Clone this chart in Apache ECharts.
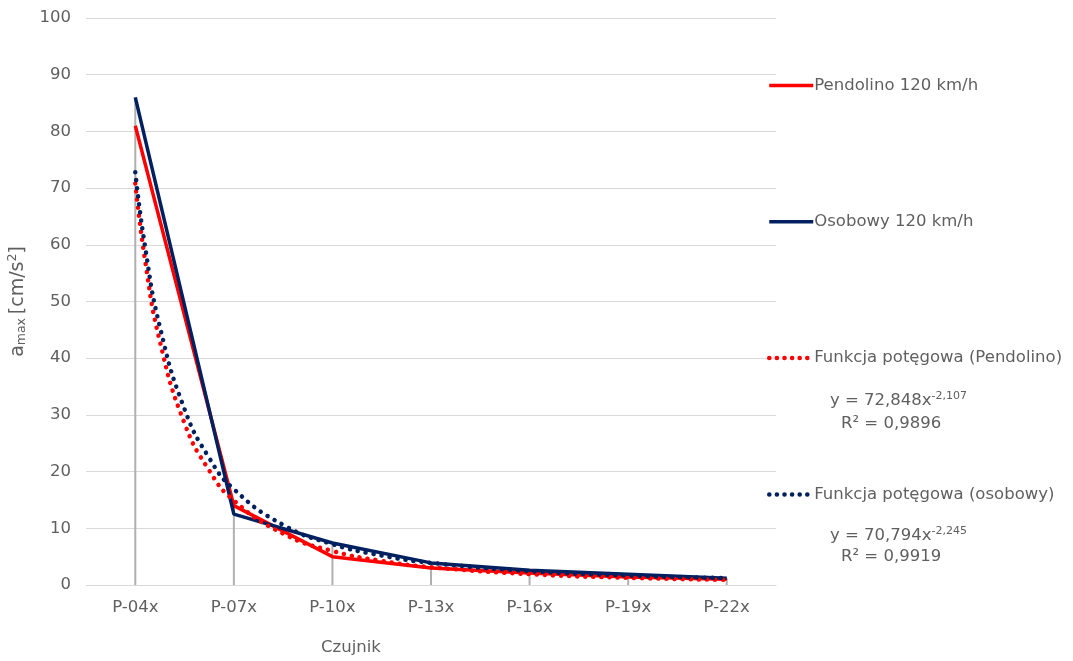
<!DOCTYPE html>
<html><head><meta charset="utf-8">
<script src="https://cdn.jsdelivr.net/npm/echarts@6/dist/echarts.min.js"></script>
<style>html,body{margin:0;padding:0;background:#fff}#c{width:1073px;height:661px}</style>
</head><body><div id="c"></div>
<script>
const categories = ['P-04x','P-07x','P-10x','P-13x','P-16x','P-19x','P-22x'];
const pendolino = [81, 14, 5, 3, 2.1, 1.4, 1.0];
const osobowy = [86, 12.5, 7.4, 3.9, 2.6, 1.9, 1.2];
// trend curves at positions along the category axis (1 = P-04x ... 7 = P-22x)
const trendX = [1, 1.1, 1.25, 1.5, 1.75, 2, 2.5, 3, 3.5, 4, 5, 6, 7];
const trendPendolino = [70.8, 57.2, 42.9, 28.5, 20.2, 14.9, 9.05, 6.0, 4.25, 3.15, 1.91, 1.27, 0.90];
const trendOsobowy = [72.8, 59.6, 45.5, 31.0, 22.4, 16.9, 10.6, 7.2, 5.2, 3.9, 2.45, 1.67, 1.21];
const yTicks = [0, 100, 10];
const names = ['Pendolino 120 km/h', 'Osobowy 120 km/h', 'Funkcja potęgowa (Pendolino)', 'Funkcja potęgowa (osobowy)'];

const FONT = 'DejaVu Sans';
const FS = 16.5;
const GREY = '#5f5f5f';
const RED = '#ff0000';
const NAVY = '#002060';

const dropLines = categories.map((c, i) => Math.max(pendolino[i], osobowy[i]));
const pairs = (xs, ys) => xs.map((x, i) => [x, ys[i]]);
const DOT = [0.1, 8];

const chart = echarts.init(document.getElementById('c'));
chart.setOption({
  animation: false,
  textStyle: {fontFamily: FONT},
  grid: {left: 86, right: 297, top: 18, bottom: 76, containLabel: false, outerBoundsMode: 'none'},
  legend: {
    orient: 'vertical', left: 767, top: 77, padding: 0, itemWidth: 44, itemHeight: 14, itemGap: 119.3,
    itemStyle: {opacity: 0},
    textStyle: {fontFamily: FONT, fontSize: FS, color: GREY, padding: [0, 0, 0, -4]},
    data: [
      {name: names[0], lineStyle: {width: 3.5}},
      {name: names[1], lineStyle: {width: 3.5}},
      {name: names[2], lineStyle: {width: 4.5, type: [0.1, 7.5], cap: 'round'}},
      {name: names[3], lineStyle: {width: 4.5, type: [0.1, 7.5], cap: 'round'}}
    ]
  },
  xAxis: [{
    type: 'category', data: categories, boundaryGap: true,
    axisLine: {lineStyle: {color: '#d9d9d9', width: 1}},
    axisTick: {show: false},
    axisLabel: {color: GREY, fontSize: FS, margin: 14, fontFamily: FONT},
    name: 'Czujnik', nameLocation: 'middle', nameGap: 54,
    nameTextStyle: {color: GREY, fontSize: FS, fontFamily: FONT, padding: [0, 160, 0, 0]}
  }, {
    type: 'value', min: 0.5, max: 7.5, show: false
  }],
  yAxis: {
    type: 'value', min: yTicks[0], max: yTicks[1], interval: yTicks[2],
    axisLine: {show: false}, axisTick: {show: false},
    splitLine: {lineStyle: {color: '#d9d9d9', width: 1}},
    axisLabel: {color: GREY, fontSize: FS, margin: 15, fontFamily: FONT},
    name: '{a|a}{s|max} {a|[cm/s}{p|2}{a|]}', nameLocation: 'middle', nameRotate: 90, nameGap: 56,
    nameTextStyle: {
      rich: {
        a: {fontSize: 19, color: GREY, fontFamily: FONT},
        s: {fontSize: 12.5, color: GREY, fontFamily: FONT, verticalAlign: 'bottom', padding: [9, 0, 0, 0]},
        p: {fontSize: 12.5, color: GREY, fontFamily: FONT, verticalAlign: 'top', padding: [0, 0, 9, 0]}
      }
    }
  },
  series: [
    {type: 'bar', data: dropLines, barWidth: 2, itemStyle: {color: '#b0b0b0'}, silent: true, z: 1},
    {name: names[0], type: 'line', data: pendolino, symbol: 'none', lineStyle: {color: RED, width: 3.5}, itemStyle: {color: RED}, z: 3},
    {name: names[1], type: 'line', data: osobowy, symbol: 'none', lineStyle: {color: NAVY, width: 3.5}, itemStyle: {color: NAVY}, z: 4},
    {name: names[2], type: 'line', xAxisIndex: 1, data: pairs(trendX, trendPendolino), smooth: true, symbol: 'none',
      lineStyle: {color: RED, width: 4.5, type: DOT, cap: 'round'}, itemStyle: {color: RED}, z: 5},
    {name: names[3], type: 'line', xAxisIndex: 1, data: pairs(trendX, trendOsobowy), smooth: true, symbol: 'none',
      lineStyle: {color: NAVY, width: 4.5, type: DOT, cap: 'round'}, itemStyle: {color: NAVY}, z: 6}
  ],
  graphic: [
    {type: 'text', left: 830, top: 391, style: {text: '{a|y = 72,848x}{p|-2,107}', rich: {a: {fontSize: FS, fill: GREY, fontFamily: FONT}, p: {fontSize: 11, fill: GREY, fontFamily: FONT, verticalAlign: 'top', padding: [0,0,9,0]}}}},
    {type: 'text', left: 841, top: 415, style: {text: 'R² = 0,9896', fontSize: FS, fill: GREY, fontFamily: FONT}},
    {type: 'text', left: 830, top: 526, style: {text: '{a|y = 70,794x}{p|-2,245}', rich: {a: {fontSize: FS, fill: GREY, fontFamily: FONT}, p: {fontSize: 11, fill: GREY, fontFamily: FONT, verticalAlign: 'top', padding: [0,0,9,0]}}}},
    {type: 'text', left: 841, top: 548, style: {text: 'R² = 0,9919', fontSize: FS, fill: GREY, fontFamily: FONT}}
  ]
});
</script></body></html>
